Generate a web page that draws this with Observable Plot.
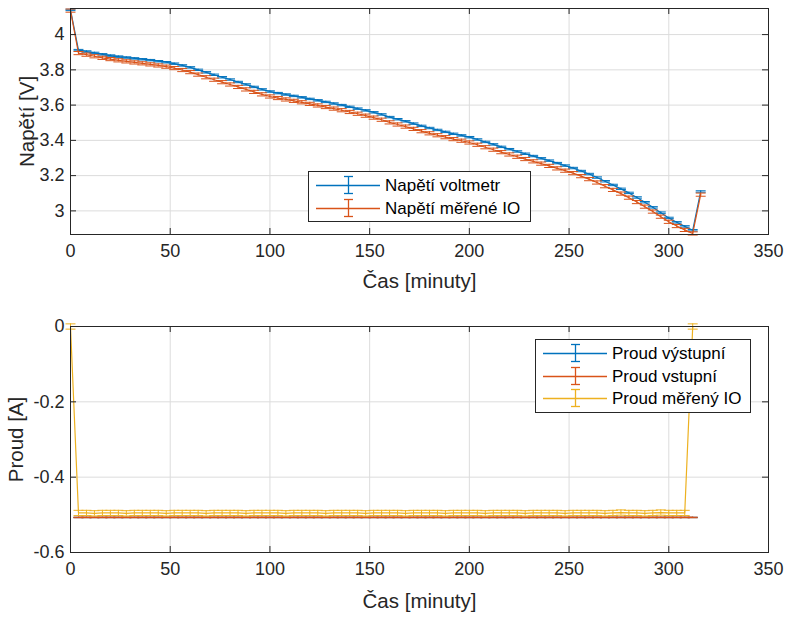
<!DOCTYPE html>
<html><head><meta charset="utf-8">
<script src="https://cdn.jsdelivr.net/npm/d3@7"></script>
<script src="https://cdn.jsdelivr.net/npm/@observablehq/plot@0.6"></script>
<style>
body{margin:0;background:#fff;}
#fig{position:relative;width:788px;height:617px;font-family:"Liberation Sans",Arial,Helvetica,sans-serif;background:#fff;}
#fig svg{position:absolute;left:0;}
</style></head><body><div id="fig"></div>
<script>
// ---- data ----
const time = [
0,4,8,12,16,20,24,28,32,36,
40,44,48,52,56,60,64,68,72,76,
80,84,88,92,96,100,104,108,112,116,
120,124,128,132,136,140,144,148,152,156,
160,164,168,172,176,180,184,188,192,196,
200,204,208,212,216,220,224,228,232,236,
240,244,248,252,256,260,264,268,272,276,
280,284,288,292,296,300,304,308,312,316];

const napetiVoltmetr = [
4.140,3.912,3.904,3.896,3.888,3.881,3.875,3.870,3.865,3.860,
3.855,3.849,3.843,3.835,3.825,3.814,3.800,3.786,3.772,3.758,
3.745,3.731,3.717,3.703,3.689,3.677,3.668,3.660,3.652,3.644,
3.635,3.627,3.618,3.609,3.600,3.590,3.580,3.570,3.559,3.547,
3.532,3.520,3.508,3.495,3.482,3.470,3.459,3.448,3.437,3.428,
3.418,3.405,3.391,3.377,3.363,3.350,3.337,3.324,3.311,3.298,
3.285,3.271,3.257,3.243,3.226,3.209,3.189,3.168,3.147,3.125,
3.102,3.076,3.049,3.020,2.990,2.960,2.935,2.912,2.890,3.110];

const napetiIO = [
4.136,3.895,3.886,3.877,3.868,3.861,3.854,3.848,3.842,3.837,
3.831,3.825,3.818,3.810,3.799,3.787,3.773,3.758,3.744,3.730,
3.717,3.703,3.689,3.675,3.661,3.649,3.640,3.632,3.624,3.616,
3.607,3.598,3.589,3.580,3.571,3.561,3.551,3.540,3.529,3.517,
3.502,3.490,3.478,3.465,3.452,3.440,3.429,3.418,3.407,3.398,
3.388,3.375,3.361,3.347,3.333,3.320,3.307,3.294,3.281,3.268,
3.255,3.241,3.228,3.214,3.197,3.180,3.161,3.140,3.119,3.098,
3.075,3.050,3.024,2.996,2.967,2.938,2.914,2.892,2.872,3.092];

const proudVystupni = [
null,-0.507,-0.507,-0.507,-0.507,-0.507,-0.507,-0.507,-0.507,-0.507,
-0.507,-0.507,-0.507,-0.507,-0.507,-0.507,-0.507,-0.507,-0.507,-0.507,
-0.507,-0.507,-0.507,-0.507,-0.507,-0.507,-0.507,-0.507,-0.507,-0.507,
-0.507,-0.507,-0.507,-0.507,-0.507,-0.507,-0.507,-0.507,-0.507,-0.507,
-0.507,-0.507,-0.507,-0.507,-0.507,-0.507,-0.507,-0.507,-0.507,-0.507,
-0.507,-0.507,-0.507,-0.507,-0.507,-0.507,-0.507,-0.507,-0.507,-0.507,
-0.507,-0.507,-0.507,-0.507,-0.507,-0.507,-0.507,-0.507,-0.507,-0.507,
-0.507,-0.507,-0.507,-0.507,-0.507,-0.507,-0.507,-0.507,-0.507,null];

const proudVstupni = [
null,-0.507,-0.507,-0.507,-0.507,-0.507,-0.507,-0.507,-0.507,-0.507,
-0.507,-0.507,-0.507,-0.507,-0.507,-0.507,-0.507,-0.507,-0.507,-0.507,
-0.507,-0.507,-0.507,-0.507,-0.507,-0.507,-0.507,-0.507,-0.507,-0.507,
-0.507,-0.507,-0.507,-0.507,-0.507,-0.507,-0.507,-0.507,-0.507,-0.507,
-0.507,-0.507,-0.507,-0.507,-0.507,-0.507,-0.507,-0.507,-0.507,-0.507,
-0.507,-0.507,-0.507,-0.507,-0.507,-0.507,-0.507,-0.507,-0.507,-0.507,
-0.507,-0.507,-0.507,-0.507,-0.507,-0.507,-0.507,-0.507,-0.507,-0.507,
-0.507,-0.507,-0.507,-0.507,-0.507,-0.507,-0.507,-0.507,-0.507,null];

const proudIO = [
0,-0.495,-0.495,-0.496,-0.495,-0.495,-0.495,-0.496,-0.495,-0.495,
-0.495,-0.495,-0.496,-0.495,-0.495,-0.495,-0.495,-0.496,-0.495,-0.495,
-0.495,-0.495,-0.496,-0.495,-0.495,-0.495,-0.495,-0.496,-0.495,-0.495,
-0.495,-0.495,-0.496,-0.495,-0.495,-0.495,-0.495,-0.496,-0.495,-0.495,
-0.495,-0.495,-0.496,-0.495,-0.495,-0.495,-0.495,-0.496,-0.495,-0.495,
-0.495,-0.495,-0.496,-0.495,-0.495,-0.495,-0.495,-0.496,-0.495,-0.495,
-0.495,-0.495,-0.496,-0.495,-0.495,-0.495,-0.495,-0.496,-0.495,-0.494,
-0.495,-0.495,-0.496,-0.495,-0.494,-0.495,-0.495,-0.495,0,null];

const errVoltmetr = 0.004, errNapetiIO = 0.009;
const errVystupni = 0.0005, errVstupni = 0.0008, errProudIO = 0.007;

const xTicks = [0,50,100,150,200,250,300,350];
const vTicks = [3,3.2,3.4,3.6,3.8,4];
const iTicks = [-0.6,-0.4,-0.2,0];
const xLabel = "Čas [minuty]";
const vLabel = "Napětí [V]";
const iLabel = "Proud [A]";
const vLegend = ["Napětí voltmetr","Napětí měřené IO"];
const iLegend = ["Proud výstupní","Proud vstupní","Proud měřený IO"];

// ---- styles ----
const BLUE="#0072BD", RED="#D95319", YELLOW="#EDB120", INK="#262626";
const FONT='"Liberation Sans",Arial,Helvetica,sans-serif';
const W=788, ML=70, MR=20, TICKFS=18, LABELFS=20.5;

function rows(vs, e){ return time.map((t,i)=>({t, v:vs[i], e})).filter(d=>d.v!=null); }

function errMarks(data, color, sw=1.2){
  const cap = 2.5;
  return [
    Plot.line(data,{x:"t",y:"v",stroke:color,strokeWidth:sw}),
    Plot.ruleX(data,{x:"t",y1:d=>d.v-d.e,y2:d=>d.v+d.e,stroke:color,strokeWidth:1}),
    Plot.link(data,{x1:d=>d.t-cap,x2:d=>d.t+cap,y1:d=>d.v-d.e,y2:d=>d.v-d.e,stroke:color,strokeWidth:1}),
    Plot.link(data,{x1:d=>d.t-cap,x2:d=>d.t+cap,y1:d=>d.v+d.e,y2:d=>d.v+d.e,stroke:color,strokeWidth:1})
  ];
}

function panel({height, mt, mb, yDomain, yTicks, yFmt, yLabel, yLabelDx, xLabelDy, marks}){
  const iw=W-ML-MR, ih=height-mt-mb;
  return Plot.plot({
    width:W, height, marginLeft:ML, marginRight:MR, marginTop:mt, marginBottom:mb,
    style:{fontFamily:FONT, fontSize:TICKFS+"px", color:INK, background:"transparent", overflow:"visible"},
    x:{domain:[0,350]},
    y:{domain:yDomain},
    marks:[
      Plot.gridX({ticks:xTicks, stroke:"#dcdcdc", strokeOpacity:1}),
      Plot.gridY({ticks:yTicks, stroke:"#dcdcdc", strokeOpacity:1}),
      ...marks,
      Plot.frame({stroke:INK, strokeWidth:1}),
      Plot.ruleX(xTicks,{insetTop:ih-6, stroke:INK}),
      Plot.ruleX(xTicks,{insetBottom:ih-6, stroke:INK}),
      Plot.ruleY(yTicks,{insetRight:iw-6, stroke:INK}),
      Plot.ruleY(yTicks,{insetLeft:iw-6, stroke:INK}),
      Plot.axisX({ticks:xTicks, tickSize:0, tickPadding:10, label:null, fontSize:TICKFS, fill:INK}),
      Plot.axisY({ticks:yTicks, tickSize:0, tickPadding:6, label:null, tickFormat:yFmt, fontSize:TICKFS, fill:INK}),
      Plot.text([xLabel],{text:d=>d, frameAnchor:"bottom", dy:xLabelDy, textAnchor:"middle", lineAnchor:"middle", fontSize:LABELFS, fill:INK}),
      Plot.text([yLabel],{text:d=>d, frameAnchor:"left", dx:yLabelDx, rotate:-90, textAnchor:"middle", lineAnchor:"middle", fontSize:LABELFS, fill:INK})
    ]
  });
}

const fig = document.getElementById("fig");

const topPanel = panel({
  height:300, mt:8, mb:66, yDomain:[2.866,4.148], yTicks:vTicks,
  yFmt:d=>String(d), yLabel:vLabel, yLabelDx:-43, xLabelDy:47,
  marks:[...errMarks(rows(napetiVoltmetr,errVoltmetr),BLUE), ...errMarks(rows(napetiIO,errNapetiIO),RED)]
});
topPanel.style.top="0px";
fig.appendChild(topPanel);

const bottomPanel = panel({
  height:317, mt:26, mb:65, yDomain:[-0.6,0], yTicks:iTicks,
  yFmt:d=>d===0?"0":d.toFixed(1), yLabel:iLabel, yLabelDx:-54, xLabelDy:49,
  marks:[...errMarks(rows(proudVystupni,errVystupni),BLUE,1),
         ...errMarks(rows(proudVstupni,errVstupni),RED,1.3),
         ...errMarks(rows(proudIO,errProudIO),YELLOW)]
});
bottomPanel.style.top="300px";
fig.appendChild(bottomPanel);

// ---- legends ----
const leg = d3.select(fig).append("svg").attr("width",W).attr("height",617)
  .style("top","0px").style("pointer-events","none");

function legend(x, y, w, h, items, colors, rowY, fs){
  const g = leg.append("g");
  g.append("rect").attr("x",x+0.5).attr("y",y+0.5).attr("width",w).attr("height",h)
    .attr("fill","#fff").attr("stroke",INK).attr("stroke-width",1);
  items.forEach((name,i)=>{
    const cy = rowY[i], c = colors[i];
    const lx1 = x+8, lx2 = x+72, ex = x+40.5;
    g.append("line").attr("x1",lx1).attr("x2",lx2).attr("y1",cy+0.5).attr("y2",cy+0.5).attr("stroke",c).attr("stroke-width",1.3);
    g.append("line").attr("x1",ex).attr("x2",ex).attr("y1",cy-8.5).attr("y2",cy+8.5).attr("stroke",c).attr("stroke-width",1.3);
    g.append("line").attr("x1",ex-4.5).attr("x2",ex+4.5).attr("y1",cy-8.5).attr("y2",cy-8.5).attr("stroke",c).attr("stroke-width",1.3);
    g.append("line").attr("x1",ex-4.5).attr("x2",ex+4.5).attr("y1",cy+8.5).attr("y2",cy+8.5).attr("stroke",c).attr("stroke-width",1.3);
    g.append("text").attr("x",x+77).attr("y",cy).attr("dy","0.35em")
      .attr("font-family",FONT).attr("font-size",fs).attr("fill","#000").text(name);
  });
}
legend(308,171,222,50,vLegend,[BLUE,RED],[185,208],17);
legend(535,339,215,73,iLegend,[BLUE,RED,YELLOW],[353,376,398],17);
</script></body></html>
